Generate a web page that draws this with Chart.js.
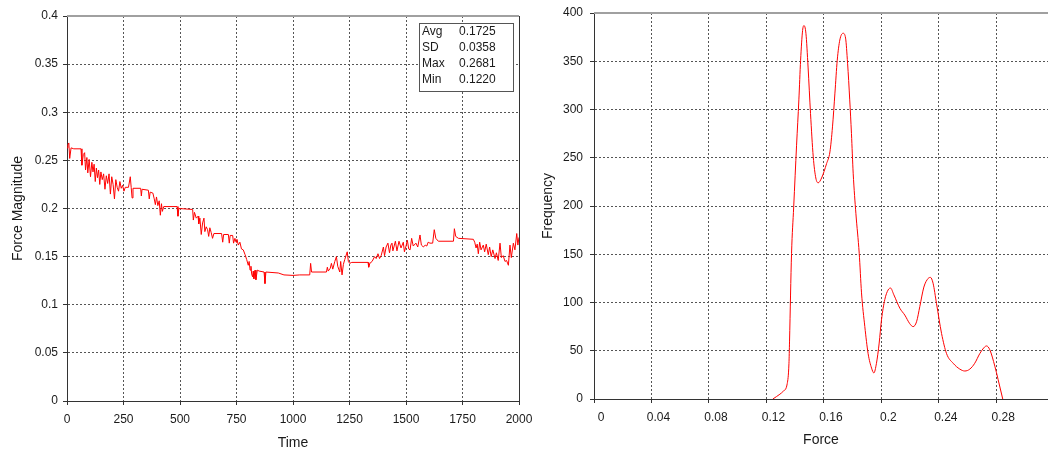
<!DOCTYPE html>
<html>
<head>
<meta charset="utf-8">
<title>Force</title>
<script src="https://cdn.jsdelivr.net/npm/chart.js@4.4.1/dist/chart.umd.min.js"></script>
<style>
	html, body { margin: 0; padding: 0; background: #fff; }
	body { width: 1048px; height: 455px; position: relative; overflow: hidden; }
	.panel { position: absolute; top: 0; height: 455px; }
	#magnitudePanel { left: 0; width: 540px; }
	#frequencyPanel { left: 530px; width: 518px; }
</style>
</head>
<body>
<div class="panel" id="magnitudePanel"><canvas id="chartMagnitude" width="540" height="455"></canvas></div>
<div class="panel" id="frequencyPanel"><canvas id="chartFrequency" width="518" height="455"></canvas></div>
<script>
// force magnitude over time
const timeValues = [
	0, 4, 8, 12, 18, 30, 62, 66, 72, 78,
	82, 88, 92, 98, 104, 110, 115, 120, 125, 130,
	135, 140, 145, 150, 156, 162, 168, 174, 180, 186,
	192, 198, 204, 210, 216, 222, 228, 234, 240, 246,
	252, 258, 272, 280, 284, 288, 292, 326, 329, 332,
	360, 364, 368, 380, 386, 391, 396, 402, 408, 413,
	418, 422, 428, 487, 491, 495, 556, 559, 564, 572,
	580, 583, 588, 594, 600, 606, 610, 616, 622, 627,
	632, 638, 644, 650, 684, 689, 693, 714, 718, 722,
	733, 737, 743, 748, 752, 758, 765, 772, 780, 788,
	795, 802, 806, 810, 814, 817, 821, 824, 827, 832,
	836, 842, 850, 872, 876, 880, 935, 960, 1000, 1030,
	1074, 1078, 1082, 1148, 1152, 1156, 1165, 1170, 1176, 1185,
	1192, 1198, 1207, 1211, 1217, 1223, 1229, 1240, 1245, 1251,
	1260, 1332, 1335, 1340, 1350, 1361, 1368, 1376, 1383, 1390,
	1400, 1405, 1412, 1420, 1427, 1433, 1438, 1442, 1453, 1460,
	1469, 1478, 1488, 1493, 1499, 1506, 1512, 1518, 1525, 1532,
	1544, 1552, 1562, 1568, 1577, 1585, 1592, 1598, 1606, 1618,
	1625, 1632, 1643, 1710, 1714, 1720, 1732, 1798, 1804, 1810,
	1815, 1820, 1826, 1832, 1842, 1848, 1855, 1864, 1870, 1877,
	1884, 1894, 1900, 1908, 1916, 1922, 1930, 1938, 1945, 1953,
	1960, 1966, 1975, 1982, 1990, 1995, 2000,
];
const magnitudeValues = [
	0.263, 0.266, 0.2681, 0.252, 0.263, 0.262, 0.262, 0.245, 0.256, 0.258,
	0.240, 0.253, 0.237, 0.251, 0.233, 0.248, 0.238, 0.246, 0.228, 0.242,
	0.232, 0.240, 0.225, 0.238, 0.230, 0.236, 0.220, 0.234, 0.226, 0.236,
	0.215, 0.233, 0.225, 0.210, 0.230, 0.222, 0.218, 0.228, 0.221, 0.224,
	0.218, 0.222, 0.222, 0.233, 0.222, 0.211, 0.221, 0.221, 0.213, 0.220,
	0.219, 0.210, 0.217, 0.216, 0.210, 0.204, 0.212, 0.203, 0.208, 0.193,
	0.205, 0.197, 0.202, 0.202, 0.192, 0.200, 0.199, 0.188, 0.196, 0.190,
	0.192, 0.184, 0.190, 0.173, 0.185, 0.190, 0.176, 0.181, 0.178, 0.171,
	0.180, 0.175, 0.169, 0.174, 0.174, 0.165, 0.173, 0.173, 0.164, 0.172,
	0.172, 0.164, 0.169, 0.165, 0.168, 0.162, 0.165, 0.158, 0.157, 0.152,
	0.147, 0.141, 0.145, 0.136, 0.140, 0.132, 0.129, 0.135, 0.127, 0.136,
	0.126, 0.136, 0.135, 0.134, 0.1220, 0.134, 0.133, 0.131, 0.1305, 0.131,
	0.131, 0.143, 0.134, 0.134, 0.139, 0.135, 0.138, 0.143, 0.137, 0.145,
	0.150, 0.140, 0.134, 0.145, 0.131, 0.142, 0.147, 0.155, 0.145, 0.143,
	0.144, 0.144, 0.139, 0.143, 0.145, 0.150, 0.148, 0.153, 0.148, 0.151,
	0.160, 0.151, 0.160, 0.164, 0.154, 0.162, 0.164, 0.156, 0.166, 0.156,
	0.166, 0.159, 0.165, 0.155, 0.160, 0.167, 0.158, 0.157, 0.169, 0.161,
	0.164, 0.160, 0.1725, 0.162, 0.160, 0.162, 0.161, 0.165, 0.164, 0.164,
	0.178, 0.169, 0.166, 0.166, 0.179, 0.171, 0.169, 0.168, 0.165, 0.159,
	0.163, 0.153, 0.165, 0.157, 0.162, 0.155, 0.163, 0.152, 0.160, 0.150,
	0.157, 0.148, 0.154, 0.146, 0.164, 0.149, 0.151, 0.145, 0.146, 0.141,
	0.162, 0.149, 0.164, 0.157, 0.174, 0.162, 0.170,
];

// frequency distribution of the force
const forceValues = [
	0.1245, 0.1294, 0.1317, 0.1345, 0.1357, 0.1361, 0.1375, 0.139, 0.141, 0.1426,
	0.1438, 0.1452, 0.1461, 0.1475, 0.149, 0.1507, 0.1526, 0.1544, 0.156, 0.1584,
	0.1619, 0.1642, 0.166, 0.1677, 0.1693, 0.1711, 0.1734, 0.1751, 0.1765, 0.178,
	0.1792, 0.1804, 0.1823, 0.1846, 0.1862, 0.1885, 0.1908, 0.1932, 0.1948, 0.1966,
	0.1985, 0.2001, 0.2024, 0.2047, 0.2064, 0.2087, 0.2129, 0.2163, 0.2198, 0.2221,
	0.2245, 0.2268, 0.2296, 0.2326, 0.2342, 0.236, 0.2384, 0.2419, 0.2454, 0.25,
	0.2546, 0.2581, 0.2616, 0.265, 0.2685, 0.2713, 0.2732, 0.2755, 0.279, 0.2813,
	0.2845,
];
const frequencyValues = [
	0, 5, 8, 16, 37, 60, 151, 199, 263, 310,
	351, 382, 387, 379, 344, 296, 251, 229, 224, 229,
	244, 256, 282, 317, 351, 372, 379, 374, 348, 310,
	275, 234, 192, 151, 110, 75, 47, 32, 27, 37,
	58, 82, 103, 113, 115, 108, 94, 87, 78, 75,
	80, 96, 116, 125, 126, 120, 99, 68, 47, 37,
	31, 29, 31, 37, 47, 53, 55, 51, 34, 20,
	0,
];

const timeTicks = [0, 250, 500, 750, 1000, 1250, 1500, 1750, 2000];
const magnitudeTicks = [0, 0.05, 0.1, 0.15, 0.2, 0.25, 0.3, 0.35, 0.4];
const forceTicks = [0, 0.04, 0.08, 0.12, 0.16, 0.2, 0.24, 0.28];
const frequencyTicks = [0, 50, 100, 150, 200, 250, 300, 350, 400];

const statNames = ['Avg', 'SD', 'Max', 'Min'];
const statValues = ['0.1725', '0.0358', '0.2681', '0.1220'];

const FONT_FAMILY = '"Liberation Sans", Arial, sans-serif';
const TEXT_COLOR = '#1a1a1a';
const AXIS_COLOR = '#333';
const GRID_COLOR = '#555';

Chart.defaults.font.family = FONT_FAMILY;
Chart.defaults.color = TEXT_COLOR;

// gray rule along the top of the plot, optional solid right edge
const framePlugin = {
	id: 'frame',
	afterDraw(chart, args, opts) {
		const { ctx, chartArea: area } = chart;
		ctx.save();
		ctx.strokeStyle = '#a0a0a0';
		ctx.lineWidth = 2;
		ctx.beginPath();
		ctx.moveTo(area.left, area.top);
		ctx.lineTo(area.right, area.top);
		ctx.stroke();
		if (opts.rightBorder) {
			const x = Math.round(area.right) + 0.5;
			ctx.strokeStyle = AXIS_COLOR;
			ctx.lineWidth = 1;
			ctx.beginPath();
			ctx.moveTo(x, area.top);
			ctx.lineTo(x, area.bottom);
			ctx.stroke();
		}
		ctx.restore();
	},
};

// summary statistics box in the top right corner
const statsPlugin = {
	id: 'stats',
	afterDraw(chart) {
		const { ctx, chartArea: area } = chart;
		const w = 94;
		const h = 68;
		const x = Math.round(area.right) - 100;
		const y = Math.round(area.top) + 7;
		ctx.save();
		ctx.fillStyle = '#fff';
		ctx.fillRect(x, y, w, h);
		ctx.strokeStyle = '#555';
		ctx.lineWidth = 1;
		ctx.strokeRect(x + 0.5, y + 0.5, w, h);
		ctx.fillStyle = TEXT_COLOR;
		ctx.font = '12px ' + FONT_FAMILY;
		ctx.textBaseline = 'middle';
		ctx.textAlign = 'left';
		statNames.forEach((name, i) => {
			const rowY = y + 9 + i * 16;
			ctx.fillText(name, x + 3, rowY);
			ctx.fillText(statValues[i], x + 40, rowY);
		});
		ctx.restore();
	},
};

function formatTick(value) {
	return String(+value.toFixed(4));
}

function buildAxis(tickValues, min, max, title, sizes) {
	const horizontal = sizes.height !== undefined;
	return {
		type: 'linear',
		min: min,
		max: max,
		afterBuildTicks: scale => {
			scale.ticks = tickValues.map(value => ({ value: value }));
		},
		afterFit: scale => {
			if (horizontal) {
				scale.height = sizes.height;
				scale.paddingLeft = 0;
				scale.paddingRight = 0;
			} else {
				scale.width = sizes.width;
				scale.paddingTop = 0;
				scale.paddingBottom = 0;
			}
		},
		ticks: {
			autoSkip: false,
			maxRotation: 0,
			padding: sizes.padding,
			labelOffset: sizes.labelOffset || 0,
			color: TEXT_COLOR,
			font: { size: 12 },
			callback: formatTick,
		},
		grid: {
			color: GRID_COLOR,
			lineWidth: 1,
			tickLength: 4,
			tickColor: AXIS_COLOR,
		},
		border: {
			display: true,
			color: AXIS_COLOR,
			width: 1,
			dash: [2, 2],
		},
		title: {
			display: true,
			text: title,
			color: TEXT_COLOR,
			font: { size: 14 },
			padding: sizes.titlePadding,
		},
	};
}

function toPoints(xs, ys) {
	return xs.map((x, i) => ({ x: x, y: ys[i] }));
}

const BASE_OPTIONS = {
	responsive: false,
	animation: false,
	events: [],
	plugins: {
		legend: { display: false },
		tooltip: { enabled: false },
	},
};

new Chart(document.querySelector('#chartMagnitude'), {
	type: 'line',
	data: {
		datasets: [
			{
				label: 'Force Magnitude',
				data: toPoints(timeValues, magnitudeValues),
				borderColor: '#ff0000',
				borderWidth: 1,
				pointRadius: 0,
				tension: 0,
				fill: false,
			},
		],
	},
	options: {
		...BASE_OPTIONS,
		layout: { padding: { top: 16, right: 21, bottom: 0, left: 0 } },
		scales: {
			x: buildAxis(timeTicks, 0, 2000, 'Time', {
				height: 54,
				padding: 7,
				titlePadding: { top: 0, bottom: 3 },
			}),
			y: buildAxis(magnitudeTicks, 0, 0.4, 'Force Magnitude', {
				width: 67,
				padding: 5,
				titlePadding: { top: 10, bottom: 0 },
			}),
		},
		plugins: {
			...BASE_OPTIONS.plugins,
			frame: { rightBorder: true },
		},
	},
	plugins: [framePlugin, statsPlugin],
});

new Chart(document.querySelector('#chartFrequency'), {
	type: 'line',
	data: {
		datasets: [
			{
				label: 'Frequency',
				data: toPoints(forceValues, frequencyValues),
				borderColor: '#ff0000',
				borderWidth: 1,
				pointRadius: 0,
				cubicInterpolationMode: 'monotone',
				fill: false,
			},
		],
	},
	options: {
		...BASE_OPTIONS,
		layout: { padding: { top: 13, right: 0, bottom: 0, left: 0 } },
		scales: {
			x: buildAxis(forceTicks, 0, 0.316, 'Force', {
				height: 56,
				padding: 7,
				labelOffset: 7,
				titlePadding: { top: 0, bottom: 6 },
			}),
			y: buildAxis(frequencyTicks, 0, 400, 'Frequency', {
				width: 64,
				padding: 7,
				titlePadding: { top: 10, bottom: 0 },
			}),
		},
		plugins: {
			...BASE_OPTIONS.plugins,
			frame: { rightBorder: false },
		},
	},
	plugins: [framePlugin],
});
</script>
</body>
</html>
